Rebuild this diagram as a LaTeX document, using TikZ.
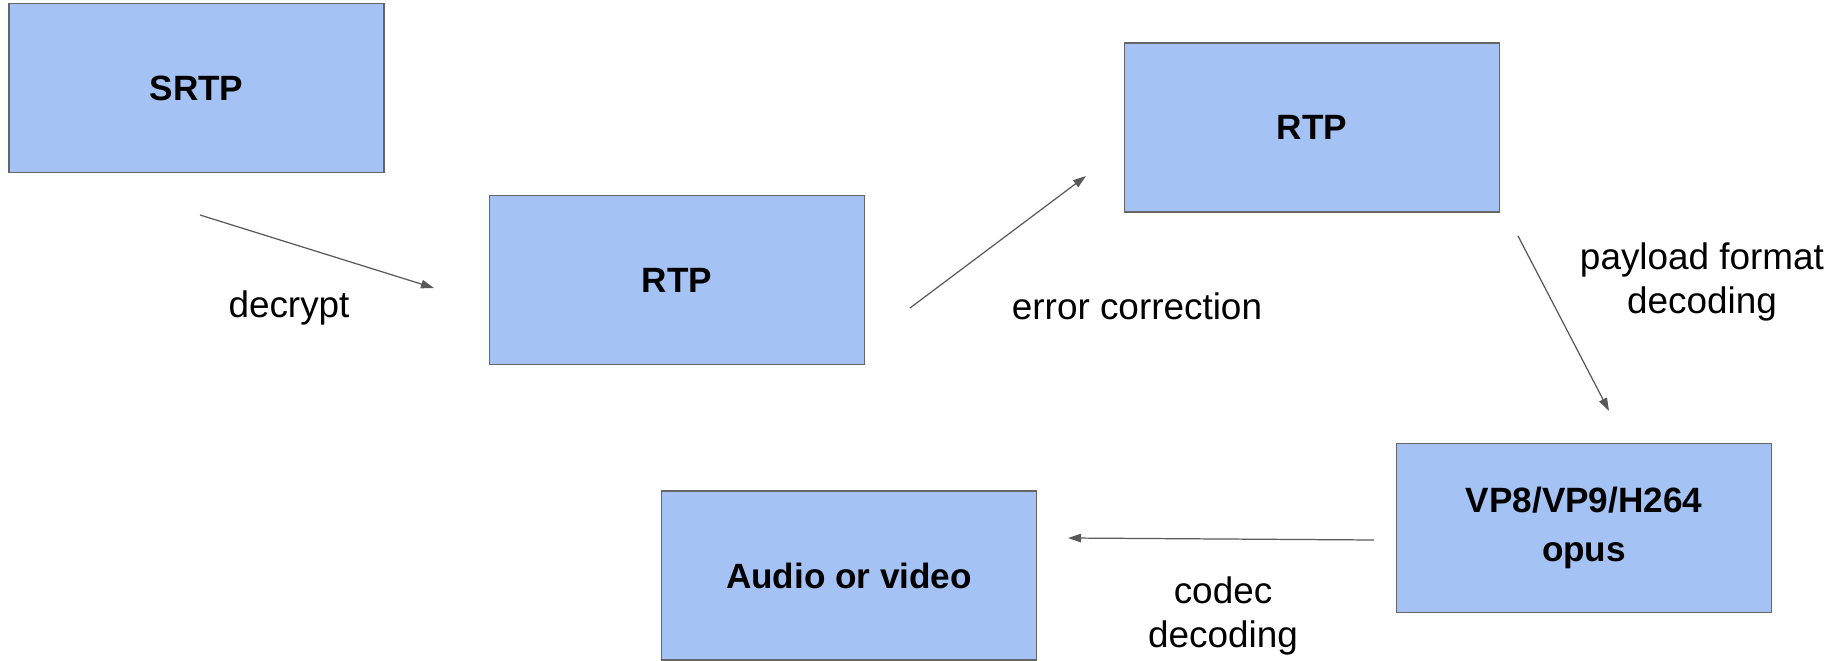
\documentclass[tikz,border=0pt]{standalone}
\usepackage{fontspec}
\setmainfont{Liberation Sans}
\usetikzlibrary{arrows.meta}

\definecolor{boxfill}{HTML}{A4C2F4}
\definecolor{boxline}{HTML}{666666}
\definecolor{arrowline}{HTML}{595959}

\tikzset{
  stage/.style={draw=boxline, fill=boxfill, line width=0.9pt,
    minimum width=7.5cm, minimum height=3.38cm, align=center,
    font=\fontsize{20}{28}\selectfont\bfseries},
  flow/.style={draw=arrowline, line width=0.7pt,
    -{Triangle[length=0.26cm, width=0.17cm]}},
  steplabel/.style={align=center, font=\fontsize{21}{25}\selectfont}
}

\begin{document}
\begin{tikzpicture}[x=0.02cm, y=-0.02cm]
\useasboundingbox (0,0) rectangle (1841,661);

% the stages
\node[stage] (srtp)  at (196.5,88)  {SRTP};
\node[stage] (rtpa)  at (677,280)   {RTP};
\node[stage] (rtpb)  at (1312,127.5) {RTP};
\node[stage] (codec) at (1584,528)  {VP8/VP9/H264\\opus};
\node[stage] (media) at (849,575.5) {Audio or video};

% arrow ends
\coordinate (decA) at (200,215);
\coordinate (decB) at (434,288);
\coordinate (errA) at (910,308);
\coordinate (errB) at (1086,176);
\coordinate (payA) at (1518,236);
\coordinate (payB) at (1609,411);
\coordinate (codA) at (1374,540);
\coordinate (codB) at (1068,538);

\draw[flow] (decA) -- (decB);
\draw[flow] (errA) -- (errB);
\draw[flow] (payA) -- (payB);
\draw[flow] (codA) -- (codB);

% labels
\node[steplabel] (decrypt) at (289,308)  {decrypt};
\node[steplabel] (errcorr) at (1137,306) {error correction};
\node[steplabel] (payload) at (1702,282) {payload format\\decoding};
\node[steplabel] (coddec)  at (1223,616) {codec\\decoding};
\end{tikzpicture}
\end{document}
